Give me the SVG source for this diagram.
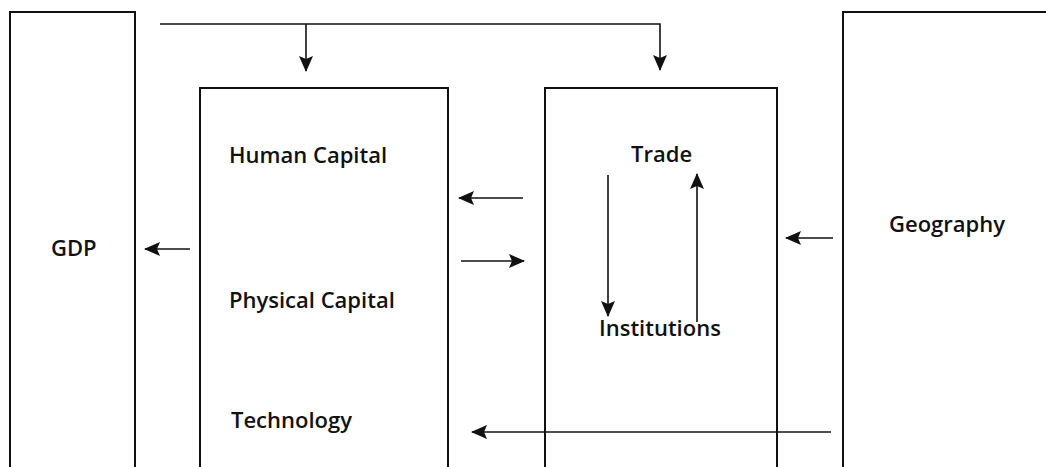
<svg xmlns="http://www.w3.org/2000/svg" width="1046" height="467" viewBox="0 0 1046 467">
<style>
.box{fill:none;stroke:#111;stroke-width:2}
.c{fill:none;stroke:#111;stroke-width:1.6}
text{font-family:"Open Sans","Liberation Sans",sans-serif;font-size:22px;font-weight:600;fill:#111}
</style>
<defs>
<marker id="ah" markerUnits="userSpaceOnUse" markerWidth="16" markerHeight="14" viewBox="0 0 16 14" refX="15" refY="7" orient="auto">
<path d="M0,0 L16,7 L0,14 L3,7 Z" fill="#111"/>
</marker>
</defs>
<rect width="1046" height="467" fill="#fff"/>
<g id="gdp">
<rect class="box" x="10" y="12" width="125" height="480"/>
<text x="51" y="256">GDP</text>
</g>
<g id="factors">
<rect class="box" x="200" y="88" width="248" height="400"/>
<text x="229" y="163">Human Capital</text>
<text x="229" y="308">Physical Capital</text>
<text x="231" y="428">Technology</text>
</g>
<g id="trade-institutions">
<rect class="box" x="545" y="88" width="232" height="400"/>
<text x="631" y="162">Trade</text>
<text x="599" y="336">Institutions</text>
</g>
<g id="geography">
<rect class="box" x="843" y="12" width="230" height="480"/>
<text x="889" y="232">Geography</text>
</g>
<g id="connectors">
<path class="c" d="M160 24 H660 V70" marker-end="url(#ah)"/>
<path class="c" d="M306 24 V71" marker-end="url(#ah)"/>
<path class="c" d="M190 249 H145" marker-end="url(#ah)"/>
<path class="c" d="M523 198 H459" marker-end="url(#ah)"/>
<path class="c" d="M461 261 H524" marker-end="url(#ah)"/>
<path class="c" d="M608 175 V316" marker-end="url(#ah)"/>
<path class="c" d="M697 322 V174" marker-end="url(#ah)"/>
<path class="c" d="M833 238 H786" marker-end="url(#ah)"/>
<path class="c" d="M831 432 H472" marker-end="url(#ah)"/>
</g>
</svg>
